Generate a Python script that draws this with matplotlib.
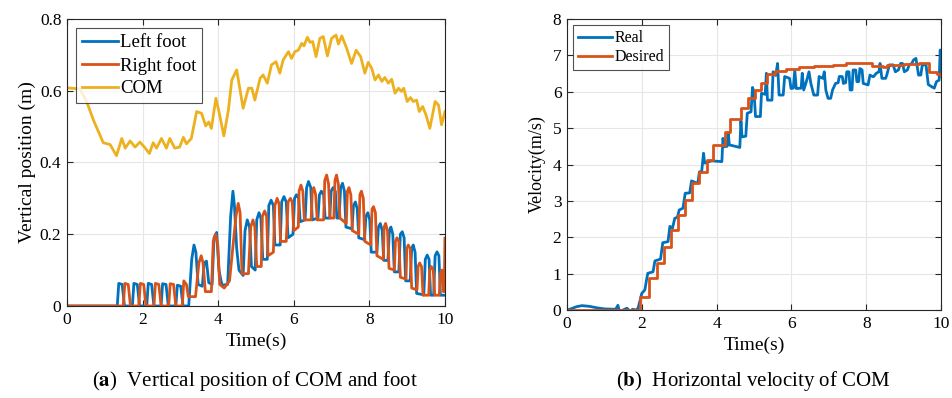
import matplotlib.pyplot as plt

plt.rcParams['font.family'] = ['Liberation Serif', 'DejaVu Serif']
plt.rcParams['mathtext.fontset'] = 'stix'

# matlab default colours
BLUE = '#0072BD'
ORANGE = '#D95319'
YELLOW = '#EDB120'

# ---- (a) vertical position ----
com_t = [0, 0.34, 0.52, 0.70, 0.96, 1.14, 1.31, 1.45, 1.54, 1.67, 1.80, 1.93, 2.07, 2.18, 2.28,
         2.37, 2.50, 2.63, 2.72, 2.85, 2.98, 3.08, 3.16, 3.29, 3.43, 3.56, 3.67, 3.75, 3.82, 3.94,
         4.03, 4.15, 4.27, 4.36, 4.49, 4.66, 4.80, 4.89, 4.97, 5.11, 5.19, 5.30, 5.41, 5.53, 5.63,
         5.72, 5.86, 5.94, 6.03, 6.12, 6.21, 6.27, 6.36, 6.43, 6.50, 6.59, 6.69, 6.78, 6.89, 7.00,
         7.06, 7.12, 7.18, 7.27, 7.40, 7.53, 7.65, 7.77, 7.88, 7.97, 8.06, 8.15, 8.24, 8.33, 8.41,
         8.50, 8.59, 8.68, 8.77, 8.85, 8.91, 9.00, 9.09, 9.16, 9.25, 9.32, 9.41, 9.50, 9.60, 9.74,
         9.83, 9.91, 10.0]
com_v = [0.608, 0.605, 0.57, 0.518, 0.455, 0.45, 0.419, 0.467, 0.44, 0.46, 0.443, 0.457, 0.44, 0.425, 0.455,
         0.44, 0.467, 0.44, 0.467, 0.44, 0.443, 0.47, 0.452, 0.467, 0.542, 0.537, 0.502, 0.513, 0.495, 0.579,
         0.537, 0.474, 0.546, 0.63, 0.658, 0.551, 0.607, 0.607, 0.574, 0.635, 0.644, 0.621, 0.672, 0.681, 0.649,
         0.686, 0.709, 0.69, 0.709, 0.713, 0.732, 0.725, 0.749, 0.735, 0.737, 0.695, 0.746, 0.751, 0.697, 0.746,
         0.751, 0.755, 0.73, 0.753, 0.718, 0.676, 0.713, 0.695, 0.649, 0.679, 0.663, 0.63, 0.644, 0.626, 0.637,
         0.621, 0.632, 0.593, 0.607, 0.598, 0.607, 0.57, 0.581, 0.57, 0.574, 0.542, 0.556, 0.532, 0.495, 0.57,
         0.56, 0.505, 0.542]

left_t = [0, 1.33, 1.37, 1.46, 1.52, 1.73, 1.77, 1.86, 1.92, 2.11, 2.15, 2.24, 2.30, 2.49, 2.53, 2.62, 2.68,
          2.88, 2.92, 3.01, 3.07, 3.22,
          3.30, 3.36, 3.41, 3.47, 3.58, 3.63, 3.69, 3.75, 3.84, 3.89, 3.96, 4.02, 4.10, 4.25,
          4.33, 4.39, 4.43, 4.49, 4.55, 4.66, 4.71, 4.77, 4.83, 4.88, 4.98,
          5.02, 5.08, 5.13, 5.18, 5.30, 5.34, 5.40, 5.46, 5.50, 5.64, 5.68, 5.74, 5.80, 5.85, 5.98,
          6.02, 6.07, 6.13, 6.17, 6.30, 6.34, 6.39, 6.45, 6.49, 6.64, 6.68, 6.73, 6.79, 6.83, 6.95,
          6.99, 7.04, 7.10, 7.14, 7.20, 7.24, 7.29, 7.34, 7.38, 7.54, 7.58, 7.63, 7.68, 7.72, 7.87,
          7.91, 7.96, 8.01, 8.05, 8.20, 8.24, 8.29, 8.34, 8.38, 8.49, 8.53, 8.57, 8.62, 8.66, 8.78,
          8.82, 8.87, 8.92, 8.96, 9.08, 9.12, 9.16, 9.21, 9.25, 9.44, 9.48, 9.53, 9.58, 9.62, 9.70,
          9.74, 9.79, 9.84, 9.88, 10.0]
left_v = [0, 0, 0.063, 0.060, 0, 0, 0.063, 0.060, 0, 0, 0.063, 0.060, 0, 0, 0.062, 0.060, 0,
          0, 0.058, 0.055, 0, 0,
          0.13, 0.17, 0.15, 0.06, 0.055, 0.12, 0.125, 0.065, 0.06, 0.19, 0.205, 0.10, 0.058, 0.06,
          0.25, 0.32, 0.28, 0.16, 0.10, 0.085, 0.21, 0.24, 0.22, 0.11, 0.10,
          0.24, 0.26, 0.245, 0.13, 0.13, 0.28, 0.295, 0.28, 0.17, 0.17, 0.29, 0.305, 0.29, 0.19, 0.20,
          0.30, 0.31, 0.30, 0.235, 0.24, 0.33, 0.347, 0.33, 0.24, 0.245, 0.31, 0.32, 0.31, 0.245, 0.245,
          0.32, 0.33, 0.32, 0.245, 0.245, 0.33, 0.342, 0.32, 0.22, 0.215, 0.28, 0.29, 0.27, 0.19, 0.185,
          0.25, 0.26, 0.24, 0.15, 0.15, 0.22, 0.23, 0.21, 0.127, 0.127, 0.21, 0.22, 0.20, 0.095, 0.095,
          0.20, 0.207, 0.19, 0.07, 0.07, 0.16, 0.17, 0.15, 0.035, 0.031, 0.13, 0.142, 0.13, 0.03, 0.03,
          0.14, 0.151, 0.14, 0.03, 0.03]

right_t = [0, 1.49, 1.53, 1.62, 1.68, 1.90, 1.94, 2.03, 2.09, 2.30, 2.34, 2.43, 2.49, 2.69, 2.73, 2.82, 2.88,
           3.05, 3.09, 3.16, 3.21, 3.40,
           3.49, 3.55, 3.60, 3.66, 3.82, 3.87, 3.93, 3.99, 4.04, 4.16, 4.30,
           4.47, 4.53, 4.58, 4.63, 4.80, 4.86, 4.92, 4.97, 5.02, 5.14,
           5.17, 5.23, 5.28, 5.32, 5.46, 5.50, 5.56, 5.61, 5.65, 5.80, 5.85, 5.91, 5.96, 6.00, 6.12,
           6.14, 6.19, 6.24, 6.28, 6.46, 6.49, 6.53, 6.58, 6.62, 6.79, 6.82, 6.87, 6.92, 6.96, 7.06,
           7.09, 7.13, 7.18, 7.22, 7.39, 7.42, 7.46, 7.51, 7.55, 7.72, 7.75, 7.79, 7.84, 7.88, 8.04,
           8.07, 8.11, 8.16, 8.20, 8.37, 8.39, 8.43, 8.48, 8.52, 8.66, 8.69, 8.73, 8.78, 8.82, 8.97,
           8.99, 9.03, 9.08, 9.12, 9.26, 9.29, 9.33, 9.38, 9.42, 9.57, 9.60, 9.64, 9.69, 9.73, 9.85,
           9.88, 9.92, 9.96, 9.98, 10.0]
right_v = [0, 0, 0.063, 0.060, 0, 0, 0.063, 0.060, 0, 0, 0.063, 0.060, 0, 0, 0.062, 0.060, 0,
           0, 0.07, 0.06, 0.026, 0.026,
           0.12, 0.14, 0.12, 0.04, 0.04, 0.18, 0.20, 0.17, 0.06, 0.05, 0.07,
           0.25, 0.286, 0.26, 0.09, 0.09, 0.22, 0.24, 0.22, 0.11, 0.11,
           0.25, 0.265, 0.25, 0.14, 0.15, 0.28, 0.30, 0.285, 0.18, 0.18, 0.29, 0.30, 0.29, 0.21, 0.22,
           0.32, 0.337, 0.32, 0.24, 0.24, 0.32, 0.33, 0.31, 0.24, 0.24, 0.35, 0.365, 0.34, 0.245, 0.245,
           0.35, 0.365, 0.34, 0.245, 0.23, 0.32, 0.33, 0.31, 0.21, 0.20, 0.31, 0.32, 0.30, 0.18, 0.17,
           0.27, 0.277, 0.26, 0.14, 0.13, 0.22, 0.23, 0.21, 0.105, 0.10, 0.18, 0.19, 0.18, 0.08, 0.075,
           0.16, 0.17, 0.16, 0.05, 0.045, 0.11, 0.12, 0.11, 0.03, 0.03, 0.10, 0.11, 0.10, 0.03, 0.03,
           0.09, 0.10, 0.04, 0.04, 0.189]

# ---- (b) horizontal velocity ----
des_t = [0, 1.95, 2.20, 2.40, 2.58, 2.77, 2.97, 3.16, 3.33, 3.54, 3.73, 3.90, 4.22, 4.36, 4.64, 4.84,
         5.02, 5.18, 5.34, 5.55, 5.85, 6.20, 6.60, 7.10, 7.45, 8.15, 8.45, 8.55, 9.00, 9.40, 9.68, 9.90, 10.0]
des_v = [0, 0.37, 0.87, 1.28, 1.74, 2.20, 2.61, 3.02, 3.48, 3.80, 4.12, 4.54, 4.90, 5.26, 5.56, 5.82,
         6.05, 6.23, 6.50, 6.58, 6.62, 6.68, 6.70, 6.74, 6.78, 6.70, 6.67, 6.74, 6.76, 6.78, 6.55, 6.50, 6.43]

real_t = [0, 0.1, 0.25, 0.4, 0.6, 0.8, 1.0, 1.3, 1.36, 1.40, 1.5, 1.6, 1.7, 1.75, 1.85, 1.9, 1.95,
          2.0, 2.08, 2.13, 2.16, 2.30, 2.35, 2.50, 2.56, 2.70, 2.75, 2.82, 2.88, 2.95, 3.00, 3.10, 3.16,
          3.28, 3.33, 3.45, 3.50, 3.54, 3.60, 3.65, 3.68, 3.80, 3.87, 4.14, 4.17, 4.20, 4.28, 4.31, 4.34,
          4.62, 4.65, 4.68, 4.78, 4.82, 4.92, 4.96, 5.00, 5.04, 5.17, 5.20, 5.30, 5.33, 5.36, 5.48, 5.51,
          5.58, 5.63, 5.67, 5.78, 5.82, 5.95, 5.99, 6.05, 6.09, 6.13, 6.26, 6.29, 6.33, 6.40, 6.47, 6.52,
          6.60, 6.70, 6.74, 6.84, 6.88, 6.92, 6.98, 7.05, 7.10, 7.18, 7.25, 7.28, 7.36, 7.39, 7.45, 7.48,
          7.54, 7.57, 7.62, 7.65, 7.72, 7.75, 7.80, 7.83, 7.89, 7.92, 8.05, 8.10, 8.17, 8.20, 8.27, 8.34,
          8.37, 8.42, 8.52, 8.55, 8.62, 8.72, 8.78, 8.86, 8.92, 8.97, 9.02, 9.10, 9.15, 9.22, 9.26, 9.33,
          9.40, 9.46, 9.50, 9.60, 9.66, 9.75, 9.82, 9.88, 9.95, 9.98, 10.0]
real_v = [0, 0.03, 0.09, 0.12, 0.10, 0.06, 0.03, 0.02, 0.13, -0.03, 0.0, 0.05, -0.05, 0.02, 0.0, 0.05, 0.25,
          0.46, 0.55, 0.85, 1.01, 1.05, 1.35, 1.40, 1.85, 1.88, 2.30, 2.25, 2.52, 2.55, 2.75, 2.80, 3.21,
          3.22, 3.55, 3.50, 3.50, 3.80, 3.80, 4.31, 4.04, 4.08, 4.10, 4.08, 4.72, 4.49, 4.50, 4.86, 4.54,
          4.47, 5.20, 4.76, 4.78, 5.41, 5.45, 6.12, 6.00, 5.32, 5.32, 5.96, 5.93, 6.51, 5.77, 5.77, 6.55,
          6.45, 6.78, 5.91, 5.91, 6.42, 6.37, 6.09, 6.10, 6.60, 6.09, 6.10, 6.51, 6.05, 6.28, 6.55, 6.23,
          5.91, 5.91, 6.42, 6.37, 6.55, 6.05, 5.82, 5.82, 6.05, 6.23, 6.25, 6.42, 6.42, 6.23, 6.25, 6.55,
          6.55, 6.05, 6.05, 6.60, 6.60, 6.28, 6.28, 6.64, 6.60, 6.23, 6.19, 6.46, 6.42, 6.42, 6.51, 6.55,
          6.78, 6.37, 6.37, 6.46, 6.74, 6.74, 6.55, 6.60, 6.78, 6.78, 6.55, 6.60, 6.74, 6.78, 6.87, 6.92,
          6.46, 6.46, 6.74, 6.74, 6.20, 6.14, 6.10, 6.28, 6.32, 7.15, 6.42]

fig = plt.figure(figsize=(9.53, 3.98), dpi=100)
ax1 = fig.add_axes([0.0703, 0.2312, 0.3966, 0.7211])
ax2 = fig.add_axes([0.595, 0.2211, 0.3924, 0.731])

lw = 2.0
ax1.plot(left_t, left_v, color=BLUE, lw=lw, label='Left foot')
ax1.plot(right_t, right_v, color=ORANGE, lw=lw, label='Right foot')
ax1.plot(com_t, com_v, color=YELLOW, lw=lw, label='COM')
ax1.set_xlim(0, 10)
ax1.set_ylim(0, 0.8)
ax1.set_yticks([0, 0.2, 0.4, 0.6, 0.8])
ax1.set_yticklabels(['0', '0.2', '0.4', '0.6', '0.8'])
ax1.set_ylabel('Vertical position (m)', fontsize=14, labelpad=3)
ax1.set_xlabel('Time(s)', fontsize=14, labelpad=4)

ax2.plot(real_t, real_v, color=BLUE, lw=lw, label='Real')
ax2.step(des_t, des_v, where='post', color=ORANGE, lw=lw, label='Desired')
ax2.set_xlim(0, 10)
ax2.set_ylim(0, 8)
ax2.set_yticks(range(0, 9))
ax2.set_ylabel('Velocity(m/s)', fontsize=13, labelpad=5)
ax2.set_xlabel('Time(s)', fontsize=14, labelpad=4)

for ax in (ax1, ax2):
    ax.set_xticks([0, 2, 4, 6, 8, 10])
    ax.grid(True, color='#e6e6e6', lw=0.8)
    ax.set_axisbelow(True)
    ax.tick_params(direction='in', top=True, right=True, labelsize=12.5, length=4, color='#262626', pad=4)
    for s in ax.spines.values():
        s.set_color('#262626')
        s.set_linewidth(0.8)

leg1 = ax1.legend(loc='upper left', fontsize=13.5, frameon=True, fancybox=False, edgecolor='#262626',
                  handlelength=1.9, handletextpad=0.15, borderpad=0.3, labelspacing=0.3,
                  borderaxespad=0.5)
leg1.get_frame().set_linewidth(0.8)
leg2 = ax2.legend(loc='upper left', fontsize=11.5, frameon=True, fancybox=False, edgecolor='#262626',
                  handlelength=2.1, handletextpad=0.15, borderpad=0.3, labelspacing=0.2,
                  borderaxespad=0.4)
leg2.get_frame().set_linewidth(0.8)

fig.text(0.268, 0.03, r'($\mathbf{a}$)  Vertical position of COM and foot', ha='center', fontsize=15)
fig.text(0.79, 0.03, r'($\mathbf{b}$)  Horizontal velocity of COM', ha='center', fontsize=15)

fig.savefig('out.png', dpi=100)
